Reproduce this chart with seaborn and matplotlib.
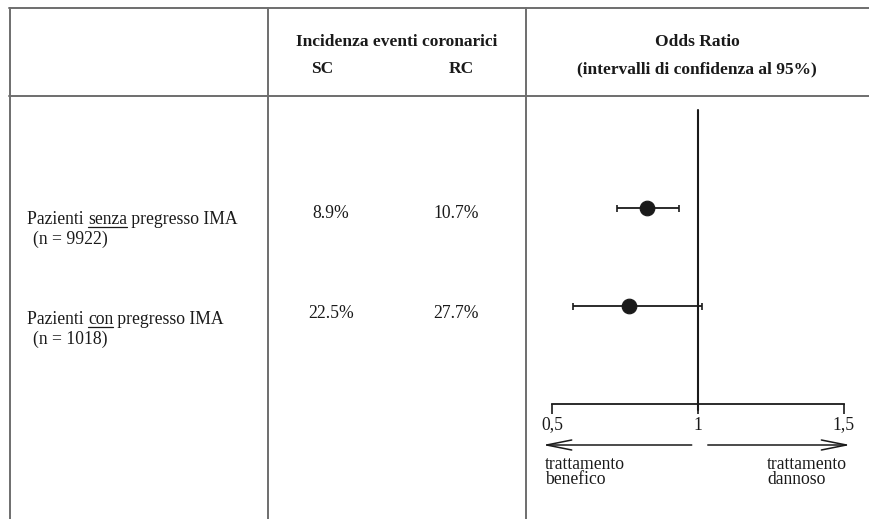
import matplotlib
matplotlib.use("Agg")
import matplotlib.pyplot as plt
import seaborn as sns
import pandas as pd
import numpy as np

# ---- data ----
groups = ["senza", "con"]
group_prefix = ["Pazienti ", "Pazienti "]
group_suffix = [" pregresso IMA", " pregresso IMA"]
group_n = ["(n = 9922)", "(n = 1018)"]
sc_rate = ["8.9%", "22.5%"]
rc_rate = ["10.7%", "27.7%"]
odds_ratio = [0.825, 0.764]
ci_low = [0.722, 0.571]
ci_high = [0.934, 1.014]
tick_values = [0.5, 1.0, 1.5]
tick_labels = ["0,5", "1", "1,5"]

df = pd.DataFrame({"group": groups, "row": [0, 1], "or": odds_ratio,
                   "lo": ci_low, "hi": ci_high})

sns.set_theme(style="white")
plt.rcParams["font.family"] = ["Liberation Serif", "DejaVu Serif"]

W, H = 869, 519
fig = plt.figure(figsize=(W / 100, H / 100), dpi=100)

# overlay axes in pixel coordinates for the table
ax0 = fig.add_axes([0, 0, 1, 1])
ax0.set_xlim(0, W)
ax0.set_ylim(H, 0)
ax0.axis("off")
lc = "#6e6e6e"
lw = 1.4
ax0.plot([9, W], [7.5, 7.5], color=lc, lw=lw)
ax0.plot([9, W], [96, 96], color=lc, lw=lw)
for xv in [9.5, 268, 526]:
    ax0.plot([xv, xv], [7.5, H], color=lc, lw=lw)

hdr = dict(fontsize=12.5, fontweight="bold", ha="center", va="center", color="#1a1a1a")
ax0.text(397, 42, "Incidenza eventi coronarici", **hdr)
ax0.text(322, 69, "SC", **hdr)
ax0.text(461, 69, "RC", **hdr)
ax0.text(697, 42, "Odds Ratio", **hdr)
ax0.text(697, 69, "(intervalli di confidenza al 95%)", **hdr)

body = dict(fontsize=12.7, va="center", color="#1a1a1a")
row_y = [219, 319]
fig.canvas.draw()
renderer = fig.canvas.get_renderer()
inv = ax0.transData.inverted()
for i in range(len(groups)):
    y = row_y[i]
    t1 = ax0.text(27, y, group_prefix[i], **body)
    bb = t1.get_window_extent(renderer)
    x1 = inv.transform((bb.x1, 0))[0]
    t2 = ax0.text(x1, y, groups[i], **body)
    bb2 = t2.get_window_extent(renderer)
    x2 = inv.transform((bb2.x1, 0))[0]
    ax0.plot([x1, x2], [y + 8, y + 8], color="#1a1a1a", lw=0.9)
    ax0.text(x2, y, group_suffix[i], **body)
    ax0.text(33, y + 20, group_n[i], **body)
    ax0.text(331, y - 6, sc_rate[i], ha="center", **body)
    ax0.text(456, y - 6, rc_rate[i], ha="center", **body)

# forest plot axes: x 0.5 -> 552 px, 1.5 -> 844 px; y top 110, bottom 404
left, right = 552, 844
top, bottom = 110.5, 404
ax = fig.add_axes([left / W, 1 - bottom / H, (right - left) / W, (bottom - top) / H])
ax.set_facecolor("none")
ax.set_xlim(0.5, 1.5)
ax.set_ylim(2.0, -1.0)

ax.axvline(1.0, ymin=-0.02, ymax=1, color="#1a1a1a", lw=1.5, clip_on=False)
ax.hlines(df["row"], df["lo"], df["hi"], color="#1a1a1a", lw=1.3)
ax.vlines(df["lo"], df["row"] - 0.035, df["row"] + 0.035, color="#1a1a1a", lw=1.2)
ax.vlines(df["hi"], df["row"] - 0.035, df["row"] + 0.035, color="#1a1a1a", lw=1.2)
sns.scatterplot(data=df, x="or", y="row", ax=ax, s=110, color="#1a1a1a",
                edgecolor="#1a1a1a", zorder=5, legend=False)

for s in ["top", "right", "left"]:
    ax.spines[s].set_visible(False)
ax.spines["bottom"].set_color("#1a1a1a")
ax.spines["bottom"].set_linewidth(1.3)
ax.set_yticks([])
ax.set_ylabel("")
ax.set_xlabel("")
ax.set_xticks(tick_values)
ax.set_xticklabels(tick_labels, fontsize=12.7, color="#1a1a1a")
ax.tick_params(axis="x", direction="out", length=7, width=1.2, color="#1a1a1a",
               pad=2, bottom=True)

xt = ax.get_xaxis_transform()
ay = -41 / (bottom - top)
arrow_kw = dict(arrowstyle="->,head_length=1.5,head_width=0.3", color="#1a1a1a", lw=1.1)
ax.annotate("", xy=(0.459, ay), xytext=(0.988, ay), xycoords=xt, textcoords=xt,
            arrowprops=arrow_kw, annotation_clip=False)
ax.annotate("", xy=(1.531, ay), xytext=(1.024, ay), xycoords=xt, textcoords=xt,
            arrowprops=arrow_kw, annotation_clip=False)
ty = -(472 - bottom) / (bottom - top)
ax.text(0.476, ty, "trattamento\nbenefico", transform=xt, fontsize=12.7, va="center",
        ha="left", linespacing=0.88, color="#1a1a1a", clip_on=False)
ax.text(1.236, ty, "trattamento\ndannoso", transform=xt, fontsize=12.7, va="center",
        ha="left", linespacing=0.88, color="#1a1a1a", clip_on=False)

fig.savefig("out.png", dpi=100)
